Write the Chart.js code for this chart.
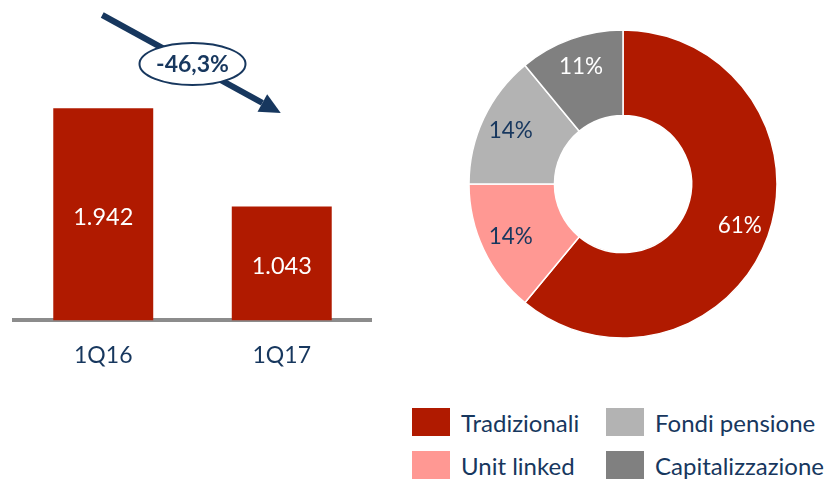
<!DOCTYPE html>
<html>
<head>
<meta charset="utf-8">
<script src="https://cdn.jsdelivr.net/npm/chart.js@4"></script>
<style>
  body { margin:0; width:831px; height:479px; background:#fff; position:relative; overflow:hidden; font-family: Lato, sans-serif; }
  #bars { position:absolute; left:0; top:0; }
  #pie { position:absolute; left:465px; top:26px; }
  #legend { position:absolute; left:412px; top:408px; display:grid; grid-auto-flow:column;
            grid-template-rows:28px 28px; grid-template-columns:194px auto; row-gap:15px; }
  .item { display:flex; align-items:center; }
  .box { width:38px; height:28px; margin-right:11px; flex:none; }
  .item span { font-size:24px; color:#17375e; white-space:nowrap; }
</style>
</head>
<body>
<canvas id="bars" width="390" height="400"></canvas>
<canvas id="pie" width="316" height="316"></canvas>
<div id="legend"></div>
<script>
// premi (mln)
const periods = ['1Q16', '1Q17'];
const premiums = [1942, 1043];

// mix prodotti 1Q17
const products = ['Tradizionali', 'Unit linked', 'Fondi pensione', 'Capitalizzazione'];
const shares = [61, 14, 14, 11];

const navy = '#17375e';
const red = '#b01a00';
const pieColors = ['#b01a00', '#ff9893', '#b3b3b3', '#808080'];
const pieLabelColors = ['#fff', navy, navy, '#fff'];

const fmt = v => String(v).replace(/\B(?=(\d{3})+(?!\d))/g, '.');
const change = ((premiums[1] / premiums[0] - 1) * 100).toFixed(1).replace('.', ',') + '%';

// values inside the bars + arrow with the change
const barExtras = {
  id: 'barExtras',
  afterDatasetsDraw(chart) {
    const ctx = chart.ctx;
    const meta = chart.getDatasetMeta(0).data;
    ctx.save();
    ctx.font = '23.5px Lato';
    ctx.fillStyle = '#fff';
    ctx.textAlign = 'center';
    ctx.textBaseline = 'middle';
    meta.forEach((bar, i) => {
      ctx.fillText(fmt(premiums[i]), bar.x, (bar.y + bar.base) / 2 + 3);
    });
    ctx.restore();
  },
  afterDraw(chart) {
    const ctx = chart.ctx;
    const meta = chart.getDatasetMeta(0).data;
    const sx = meta[0].x - 1, sy = 15, ex = meta[1].x - 1, ey = 113;
    const ang = Math.atan2(ey - sy, ex - sx);
    const hl = 21, hw = 10;
    ctx.save();
    ctx.strokeStyle = navy;
    ctx.fillStyle = navy;
    ctx.lineWidth = 6;
    ctx.beginPath();
    ctx.moveTo(sx, sy);
    ctx.lineTo(ex - Math.cos(ang) * hl, ey - Math.sin(ang) * hl);
    ctx.stroke();
    const bx = ex - Math.cos(ang) * hl, by = ey - Math.sin(ang) * hl;
    ctx.beginPath();
    ctx.moveTo(ex, ey);
    ctx.lineTo(bx + Math.sin(ang) * hw, by - Math.cos(ang) * hw);
    ctx.lineTo(bx - Math.sin(ang) * hw, by + Math.cos(ang) * hw);
    ctx.closePath();
    ctx.fill();
    // ellipse
    const cx = (sx + ex) / 2 + 1, cy = 64;
    ctx.beginPath();
    ctx.ellipse(cx, cy, 53, 21, 0, 0, Math.PI * 2);
    ctx.fillStyle = '#fff';
    ctx.fill();
    ctx.lineWidth = 2;
    ctx.stroke();
    ctx.fillStyle = navy;
    ctx.font = 'bold 23px Lato';
    ctx.textAlign = 'center';
    ctx.textBaseline = 'middle';
    ctx.fillText(change, cx, cy + 1);
    ctx.restore();
  }
};

new Chart(document.getElementById('bars'), {
  type: 'bar',
  data: {
    labels: periods,
    datasets: [{ data: premiums, backgroundColor: red, barPercentage: 0.56, categoryPercentage: 1 }]
  },
  options: {
    responsive: false,
    animation: false,
    layout: { padding: { left: 14, right: 19, top: 80, bottom: 10 } },
    plugins: { legend: { display: false }, tooltip: { enabled: false } },
    scales: {
      x: {
        z: 1,
        grid: { display: false, drawTicks: false },
        border: { display: true, color: '#8c8c8c', width: 4 },
        ticks: { color: navy, font: { family: 'Lato', size: 23 }, padding: 21 }
      },
      y: { display: false, min: 0, max: 2200 }
    }
  },
  plugins: [barExtras]
});

const pieLabels = {
  id: 'pieLabels',
  afterDatasetsDraw(chart) {
    const ctx = chart.ctx;
    ctx.save();
    ctx.font = '22.5px Lato';
    ctx.textAlign = 'center';
    ctx.textBaseline = 'middle';
    chart.getDatasetMeta(0).data.forEach((arc, i) => {
      const p = arc.getProps(['x', 'y', 'startAngle', 'endAngle', 'innerRadius', 'outerRadius'], true);
      const a = (p.startAngle + p.endAngle) / 2;
      const r = p.innerRadius + (p.outerRadius - p.innerRadius) * 0.65;
      ctx.fillStyle = pieLabelColors[i];
      ctx.fillText(shares[i] + '%', p.x + Math.cos(a) * r, p.y + Math.sin(a) * r);
    });
    ctx.restore();
  }
};

new Chart(document.getElementById('pie'), {
  type: 'doughnut',
  data: {
    labels: products,
    datasets: [{ data: shares, backgroundColor: pieColors, borderColor: '#fff', borderWidth: 1.5 }]
  },
  options: {
    responsive: false,
    animation: false,
    radius: 154,
    cutout: 70,
    plugins: { legend: { display: false }, tooltip: { enabled: false } }
  },
  plugins: [pieLabels]
});

const legend = document.getElementById('legend');
products.forEach((p, i) => {
  const d = document.createElement('div');
  d.className = 'item';
  d.innerHTML = '<div class="box" style="background:' + pieColors[i] + '"></div><span>' + p + '</span>';
  legend.appendChild(d);
});
</script>
</body>
</html>
